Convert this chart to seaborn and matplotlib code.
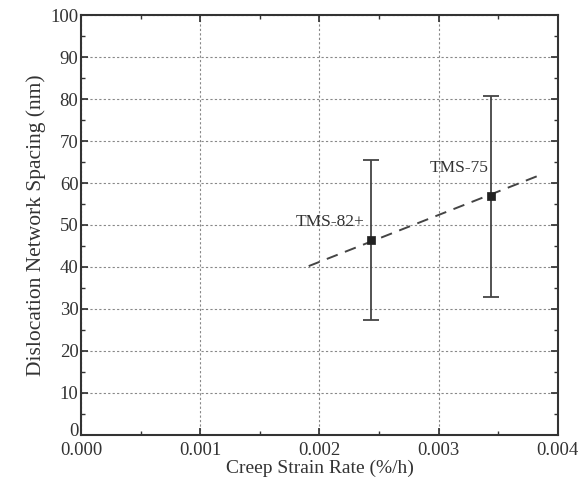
import seaborn as sns
import matplotlib.pyplot as plt
import pandas as pd
from matplotlib.ticker import MultipleLocator

alloys = ["TMS-82+", "TMS-75"]
strain_rate = [0.00243, 0.00344]
spacing = [46.5, 56.8]
err_low = [27.3, 32.8]
err_high = [65.4, 80.8]

trend_x = [0.00191, 0.00387]
trend_y = [40.2, 62.1]

label_x = [0.00209, 0.00317]
label_y = [50.7, 63.6]

data = pd.DataFrame({"alloy": alloys, "rate": strain_rate, "spacing": spacing,
                     "low": err_low, "high": err_high})

sns.set_theme(style="ticks")
plt.rcParams["font.family"] = ["Liberation Serif", "DejaVu Serif"]

fig = plt.figure(figsize=(5.84, 4.88), dpi=100)
ax = fig.add_axes([0.139, 0.109, 0.816, 0.86])

# error bars
ax.errorbar(data["rate"], data["spacing"],
            yerr=[data["spacing"] - data["low"], data["high"] - data["spacing"]],
            fmt="none", ecolor="#444444", elinewidth=1.3, capsize=6, capthick=1.3)
sns.scatterplot(data=data, x="rate", y="spacing", marker="s", s=40,
                color="#222222", edgecolor="#222222", ax=ax, zorder=3)
sns.lineplot(x=trend_x, y=trend_y, color="#444444", linestyle=(0, (6, 4)),
             linewidth=1.4, ax=ax)

for name, tx, ty in zip(alloys, label_x, label_y):
    ax.text(tx, ty, name, ha="center", va="center", fontsize=12.5, color="#333333")

ax.set_xlim(0, 0.004)
ax.set_ylim(0, 100)
ax.xaxis.set_major_locator(MultipleLocator(0.001))
ax.xaxis.set_minor_locator(MultipleLocator(0.0005))
ax.yaxis.set_major_locator(MultipleLocator(10))
ax.yaxis.set_minor_locator(MultipleLocator(5))
ax.xaxis.set_major_formatter(lambda v, p: f"{v:.3f}")
# the y "0" is drawn by hand, just above the corner, clear of "0.000"
ax.yaxis.set_major_formatter(lambda v, p: "" if abs(v) < 1e-9 else f"{v:.0f}")
ax.annotate("0", xy=(0, 0), xytext=(-2, -3.5), textcoords="offset points",
            ha="right", va="bottom", fontsize=13.5, color="#333333",
            annotation_clip=False)

ax.tick_params(which="both", direction="in", top=True, right=True, colors="#333333",
               labelsize=13.5, labelcolor="#333333")
ax.tick_params(which="major", length=5)
ax.tick_params(which="minor", length=3)
ax.tick_params(axis="y", pad=2)
ax.tick_params(axis="x", pad=5)
ax.grid(True, which="major", linestyle=(0, (2, 2)), color="#888888", linewidth=0.8)
for s in ax.spines.values():
    s.set_linewidth(1.5)
    s.set_color("#333333")

ax.set_xlabel("Creep Strain Rate (%/h)", fontsize=14, color="#333333", labelpad=1)
ax.set_ylabel("Dislocation Network Spacing (nm)", fontsize=15.5, color="#333333", labelpad=3)

fig.savefig("out.png", dpi=100)
